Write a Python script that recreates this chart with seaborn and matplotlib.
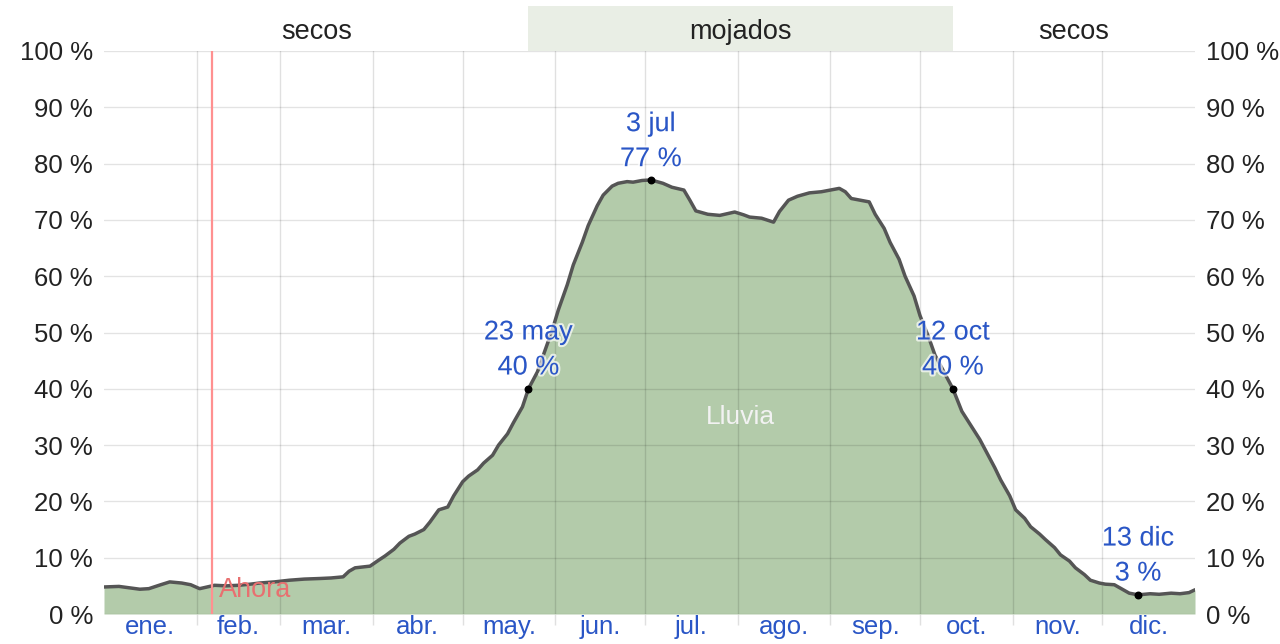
import numpy as np
import pandas as pd
import matplotlib
matplotlib.use("Agg")
import matplotlib.pyplot as plt
import matplotlib.patheffects as pe
from matplotlib.patches import Rectangle
import seaborn as sns

# ---- data ----
days = [0, 5, 12, 15, 19, 22, 26, 29, 32, 37, 41, 45, 49, 52, 57, 62, 67, 72, 76,
        80, 82, 84, 89, 92, 94, 97, 99, 102, 104, 107, 109, 112, 115, 117, 120, 122,
        125, 127, 130, 132, 135, 137, 140, 142, 145, 147, 150, 152, 155, 157, 160,
        162, 165, 167, 170, 172, 175, 177, 180, 183, 187, 190, 194, 196, 198, 202,
        206, 211, 214, 216, 220, 224, 226, 229, 232, 236, 240, 243, 246, 248, 250,
        253, 256, 258, 261, 263, 266, 268, 271, 273, 276, 278, 281, 284, 287, 290,
        293, 295, 298, 300, 303, 305, 308, 310, 313, 315, 318, 320, 323, 325, 328,
        330, 333, 335, 338, 340, 343, 346, 350, 353, 357, 360, 363, 365]
rain = [4.8, 4.9, 4.4, 4.5, 5.2, 5.7, 5.5, 5.2, 4.5, 5.1, 5.0, 5.1, 5.3, 5.5, 5.7,
        6.0, 6.2, 6.3, 6.4, 6.6, 7.6, 8.2, 8.5, 9.6, 10.3, 11.5, 12.6, 13.8, 14.2,
        15.0, 16.3, 18.5, 19.0, 21.0, 23.5, 24.5, 25.6, 26.8, 28.2, 30.0, 32.0, 34.0,
        36.8, 40.0, 43.0, 46.0, 50.5, 54.0, 58.5, 62.0, 66.0, 69.0, 72.5, 74.4,
        76.0, 76.5, 76.8, 76.7, 77.0, 77.1, 76.5, 75.8, 75.3, 73.5, 71.6, 71.0,
        70.8, 71.4, 70.9, 70.5, 70.3, 69.6, 71.5, 73.5, 74.2, 74.8, 75.0, 75.3,
        75.6, 75.0, 73.8, 73.5, 73.2, 71.0, 68.5, 66.0, 63.0, 60.0, 56.5, 53.0,
        49.0, 46.0, 43.0, 40.0, 36.0, 33.5, 31.0, 29.0, 26.0, 23.8, 21.0, 18.5,
        17.0, 15.5, 14.2, 13.2, 11.8, 10.5, 9.4, 8.2, 7.0, 6.0, 5.5, 5.3, 5.2, 4.6,
        3.7, 3.4, 3.6, 3.5, 3.7, 3.6, 3.8, 4.3]

month_starts = [0, 31, 59, 90, 120, 151, 181, 212, 243, 273, 304, 334, 365]
month_labels = ["ene.", "feb.", "mar.", "abr.", "may.", "jun.", "jul.", "ago.",
                "sep.", "oct.", "nov.", "dic."]
y_ticks = list(range(0, 101, 10))
y_labels = [f"{v} %" for v in y_ticks]

mark_days = [142, 183, 284, 346]
mark_vals = [40, 77, 40, 3.4]
mark_text = ["23 may\n40 %", "3 jul\n77 %", "12 oct\n40 %", "13 dic\n3 %"]

season_bounds = [0, 142, 284, 365]
season_names = ["secos", "mojados", "secos"]
now_day = 36

df = pd.DataFrame({"day": days, "rain": rain})

# ---- figure ----
sns.set_theme(style="white")
plt.rcParams["font.family"] = ["Liberation Sans", "DejaVu Sans"]

fig = plt.figure(figsize=(12.8, 6.44), dpi=100)
ax = fig.add_axes([104 / 1280, 1 - 614 / 644, (1195 - 104) / 1280, (614 - 51) / 644])

fill_c = "#b3cbaa"
ax.fill_between(df["day"], 0, df["rain"], color=fill_c, lw=0, zorder=1)
sns.lineplot(data=df, x="day", y="rain", ax=ax, color="#555555", lw=2.5, zorder=4)

ax.set_xlim(0, 365)
ax.set_ylim(0, 100)

# grid (drawn over fill, translucent)
for v in y_ticks:
    ax.axhline(v, color="black", alpha=0.11, lw=1, zorder=2)
for d in month_starts[1:-1]:
    ax.axvline(d, color="black", alpha=0.12, lw=1, zorder=2)

# ticks
ax.set_xticks(month_starts[1:-1])
ax.set_xticklabels([])
ax.tick_params(axis="x", length=8, color="#e0e0e0", width=1, bottom=True)
ax.set_xticks([(a + b) / 2 for a, b in zip(month_starts[:-1], month_starts[1:])], minor=True)
ax.set_xticklabels(month_labels, minor=True, color="#2a56c6", fontsize=18.5)
ax.tick_params(axis="x", which="minor", length=0, pad=1)

ax.set_yticks(y_ticks)
ax.set_yticklabels(y_labels, fontsize=18.5, color="#222222")
ax.tick_params(axis="y", length=0, pad=8, labelright=True, right=False)
ax.set_xlabel("")
ax.set_ylabel("")
for s in ax.spines.values():
    s.set_visible(False)

# now line
ax.axvline(now_day, color="#ff9090", lw=1.6, zorder=5)
ax.text(now_day + 2.5, 4.3, "Ahora", color="#e87070", fontsize=19.5, va="center",
        ha="left", zorder=6)

# season band on top
trans = ax.get_xaxis_transform()
for i, name in enumerate(season_names):
    a, b = season_bounds[i], season_bounds[i + 1]
    if name == "mojados":
        ax.add_patch(Rectangle((a, 1.0), b - a, 0.08, transform=trans,
                               color="#e9eee5", clip_on=False, lw=0, zorder=0))
    ax.text((a + b) / 2, 1.034, name, transform=trans, ha="center", va="center",
            fontsize=19.5, color="#222222", clip_on=False)

# marks
ax.scatter(mark_days, mark_vals, s=22, color="black", zorder=7)
halo = [pe.withStroke(linewidth=3, foreground="white", alpha=0.7)]
for d, v, t in zip(mark_days, mark_vals, mark_text):
    ax.annotate(t, (d, v), xytext=(0, 6), textcoords="offset points",
                ha="center", va="bottom", fontsize=19.5, color="#2a56c6",
                linespacing=1.45, path_effects=halo, zorder=8)

ax.text(213, 35.0, "Lluvia", ha="center", va="center", fontsize=19,
        color="#f2f2f2", zorder=6)

fig.savefig("out.png", dpi=100)
